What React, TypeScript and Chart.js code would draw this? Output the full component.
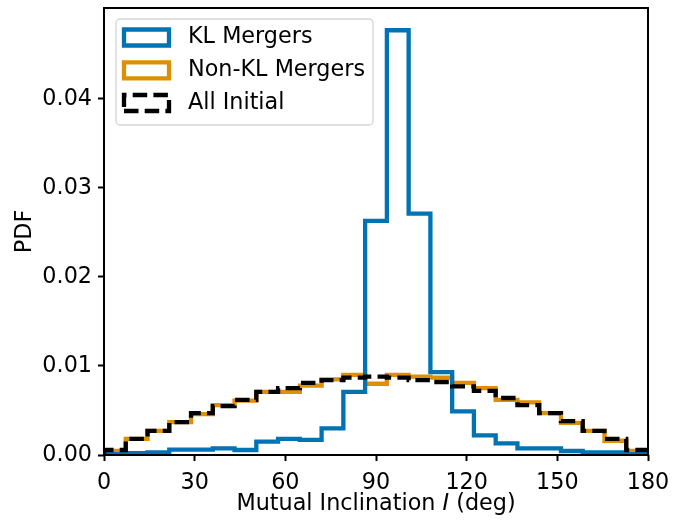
import { useEffect, useRef } from "react";
import { Chart, registerables } from "chart.js";

Chart.register(...registerables);

// ---- data ----
const X_MIN = 0;
const X_MAX = 180;
const N_BINS = 25;
const X_TICKS = [0, 30, 60, 90, 120, 150, 180];
const Y_TICKS = [0.0, 0.01, 0.02, 0.03, 0.04];
const Y_MAX = 0.0502;

const SERIES_LABELS = ["KL Mergers", "Non-KL Mergers", "All Initial"];

const KL_MERGERS = [
  0.0001, 0.0002, 0.0003, 0.0006, 0.0006, 0.00075, 0.00056, 0.0015, 0.0018,
  0.0017, 0.003, 0.0071, 0.0263, 0.0477, 0.0271, 0.0093, 0.0049, 0.0022,
  0.0013, 0.00075, 0.00075, 0.00045, 0.0003, 0.00028, 0.0001,
];
const NON_KL_MERGERS = [
  0.00045, 0.0018, 0.0027, 0.0037, 0.0046, 0.0056, 0.0061, 0.0071, 0.0071,
  0.0078, 0.0085, 0.009, 0.008, 0.009, 0.0088, 0.0087, 0.0081, 0.0075,
  0.0062, 0.0059, 0.0047, 0.0036, 0.0027, 0.0016, 0.00045,
];
const ALL_INITIAL = [
  0.00056, 0.0018, 0.0027, 0.0037, 0.0047, 0.0055, 0.0062, 0.0071, 0.0075,
  0.0081, 0.0084, 0.0087, 0.0088, 0.0087, 0.0084, 0.0082, 0.0077, 0.0072,
  0.0064, 0.0056, 0.0047, 0.0038, 0.0027, 0.0018, 0.00056,
];

const BLUE = "#0173b2";
const ORANGE = "#de8f05";
const BLACK = "#000000";
const FONT_FAMILY = "'DejaVu Sans', sans-serif";
const FONT_SIZE = 22.3;
const LW = 4.3;
const DASH = [14.5, 6.2];

function stepOutline(values: number[]) {
  const w = (X_MAX - X_MIN) / N_BINS;
  const pts: { x: number; y: number }[] = [{ x: X_MIN, y: 0 }];
  values.forEach((v, i) => {
    pts.push({ x: X_MIN + i * w, y: v });
    pts.push({ x: X_MIN + (i + 1) * w, y: v });
  });
  pts.push({ x: X_MAX, y: 0 });
  return pts;
}

function zeroPad(s: any) {
  s.paddingTop = 0;
  s.paddingBottom = 0;
  s.paddingLeft = 0;
  s.paddingRight = 0;
}

const framePlugin = {
  id: "frameAndLegend",
  afterDatasetsDraw(chart: any) {
    const { ctx, chartArea: a } = chart;
    ctx.save();
    ctx.strokeStyle = BLACK;
    ctx.lineWidth = 2;
    ctx.strokeRect(a.left, a.top, a.right - a.left, a.bottom - a.top);
    ctx.restore();
  },
  afterDraw(chart: any) {
    const { ctx, chartArea: a } = chart;
    ctx.save();
    ctx.fillStyle = BLACK;
    ctx.textBaseline = "alphabetic";
    const normal = `${FONT_SIZE}px ${FONT_FAMILY}`;
    const italic = `italic ${FONT_SIZE}px ${FONT_FAMILY}`;
    const parts = [
      { t: "Mutual Inclination ", f: normal },
      { t: "I", f: italic },
      { t: " (deg)", f: normal },
    ];
    let total = 0;
    parts.forEach((p) => {
      ctx.font = p.f;
      total += ctx.measureText(p.t).width;
    });
    let x = (a.left + a.right) / 2 - total / 2;
    ctx.textAlign = "left";
    parts.forEach((p) => {
      ctx.font = p.f;
      ctx.fillText(p.t, x, 510);
      x += ctx.measureText(p.t).width;
    });

    ctx.save();
    ctx.font = normal;
    ctx.translate(25, (a.top + a.bottom) / 2);
    ctx.rotate(-Math.PI / 2);
    ctx.textAlign = "center";
    ctx.textBaseline = "middle";
    ctx.fillText("PDF", 0, 0);
    ctx.restore();

    // legend
    const bx = 116, by = 19, bw = 257, bh = 106, r = 4;
    ctx.beginPath();
    ctx.moveTo(bx + r, by);
    ctx.arcTo(bx + bw, by, bx + bw, by + bh, r);
    ctx.arcTo(bx + bw, by + bh, bx, by + bh, r);
    ctx.arcTo(bx, by + bh, bx, by, r);
    ctx.arcTo(bx, by, bx + bw, by, r);
    ctx.closePath();
    ctx.fillStyle = "rgba(255,255,255,0.8)";
    ctx.fill();
    ctx.strokeStyle = "#d4d4d4";
    ctx.lineWidth = 1.3;
    ctx.stroke();

    const colors = [BLUE, ORANGE, BLACK];
    const rowsY = [37.5, 70.3, 103];
    const px0 = 124, px1 = 169, ph = 16;
    rowsY.forEach((cy, i) => {
      ctx.save();
      ctx.strokeStyle = colors[i];
      ctx.lineWidth = LW;
      ctx.lineJoin = "miter";
      if (i === 2) ctx.setLineDash(DASH);
      const y0 = cy - ph / 2, y1 = cy + ph / 2;
      ctx.beginPath();
      ctx.moveTo(px0, y1);
      ctx.lineTo(px1, y1);
      ctx.lineTo(px1, y0);
      ctx.lineTo(px0, y0);
      ctx.closePath();
      ctx.stroke();
      ctx.restore();
      ctx.fillStyle = BLACK;
      ctx.font = normal;
      ctx.textAlign = "left";
      ctx.textBaseline = "middle";
      ctx.fillText(SERIES_LABELS[i], 188, cy);
    });
    ctx.restore();
  },
};

export default function App() {
  const ref = useRef<HTMLCanvasElement | null>(null);
  useEffect(() => {
    if (!ref.current) return;
    const tickFont = { family: FONT_FAMILY, size: FONT_SIZE };
    const chart = new Chart(ref.current, {
      type: "line",
      data: {
        datasets: [
          {
            label: SERIES_LABELS[2],
            data: stepOutline(ALL_INITIAL),
            borderColor: BLACK,
            borderWidth: LW,
            borderDash: DASH,
            pointRadius: 0,
            fill: false,
            tension: 0,
            order: 0,
          },
          {
            label: SERIES_LABELS[0],
            data: stepOutline(KL_MERGERS),
            borderColor: BLUE,
            borderWidth: LW,
            pointRadius: 0,
            fill: false,
            tension: 0,
            order: 1,
          },
          {
            label: SERIES_LABELS[1],
            data: stepOutline(NON_KL_MERGERS),
            borderColor: ORANGE,
            borderWidth: LW,
            pointRadius: 0,
            fill: false,
            tension: 0,
            order: 2,
          },
        ],
      },
      options: {
        animation: false,
        responsive: false,
        devicePixelRatio: 1,
        layout: { padding: { left: 0, right: 40, top: 8, bottom: 0 } },
        plugins: { legend: { display: false }, tooltip: { enabled: false } },
        scales: {
          x: {
            type: "linear",
            min: X_MIN,
            max: X_MAX,
            afterBuildTicks: (s: any) => {
              s.ticks = X_TICKS.map((v) => ({ value: v }));
            },
            afterFit: (s: any) => {
              s.height = 66;
              zeroPad(s);
            },
            ticks: {
              font: tickFont,
              color: BLACK,
              padding: 9,
              autoSkip: false,
              maxRotation: 0,
              callback: (v: any) => String(v),
            },
            grid: {
              display: true,
              drawOnChartArea: false,
              drawTicks: true,
              tickLength: 6,
              tickWidth: 2,
              tickColor: BLACK,
            },
            border: { display: false },
          },
          y: {
            type: "linear",
            min: 0,
            max: Y_MAX,
            afterBuildTicks: (s: any) => {
              s.ticks = Y_TICKS.map((v) => ({ value: v }));
            },
            afterFit: (s: any) => {
              s.width = 104;
              zeroPad(s);
            },
            ticks: {
              font: tickFont,
              color: BLACK,
              padding: 6,
              autoSkip: false,
              callback: (v: any) => Number(v).toFixed(2),
            },
            grid: {
              display: true,
              drawOnChartArea: false,
              drawTicks: true,
              tickLength: 6,
              tickWidth: 2,
              tickColor: BLACK,
            },
            border: { display: false },
          },
        },
      },
      plugins: [framePlugin],
    } as any);
    return () => chart.destroy();
  }, []);
  return (
    <div style={{ position: "absolute", left: 0, top: 0, width: 688, height: 521, background: "#fff" }}>
      <canvas ref={ref} width={688} height={521} style={{ width: 688, height: 521, display: "block" }} />
    </div>
  );
}
